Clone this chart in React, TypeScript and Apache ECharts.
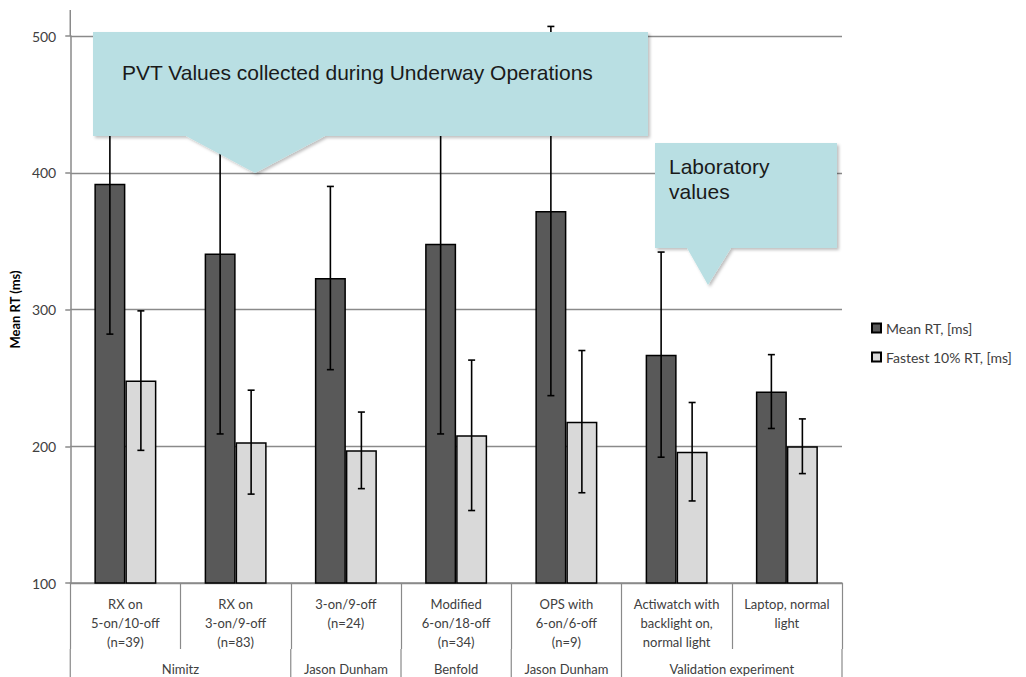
import React, { useEffect, useRef } from "react";
import * as echarts from "echarts";

const categories = [
  "RX on\n5-on/10-off\n(n=39)",
  "RX on\n3-on/9-off\n(n=83)",
  "3-on/9-off\n(n=24)",
  "Modified\n6-on/18-off\n(n=34)",
  "OPS with\n6-on/6-off\n(n=9)",
  "Actiwatch with\nbacklight on,\nnormal light",
  "Laptop, normal\nlight",
];
const groupNames = ["Nimitz", "Jason Dunham", "Benfold", "Jason Dunham", "Validation experiment"];
const groupSpans = [2, 1, 1, 1, 2];

const meanRT = [392, 341, 323, 348, 372, 267, 240];
const meanRTErr = [110, 132, 67, 139, 135, 75, 27];
const fastestRT = [248, 203, 197, 208, 218, 196, 200];
const fastestRTErr = [51, 38, 28, 55, 52, 36, 20];

const yMin = 100;
const yMax = 500;
const yInterval = 100;

const seriesNames = ["Mean RT, [ms]", "Fastest 10% RT, [ms]"];
const pvtText = "PVT Values collected during Underway Operations";
const labText = "Laboratory\nvalues";

const BAR_W = 31;
const FONT = "Lato, 'Open Sans', sans-serif";
const GRID_GRAY = "#8a8a8a";

function errorSeries(name: string, vals: number[], errs: number[], offset: number) {
  return {
    type: "custom",
    name,
    silent: true,
    z: 4,
    clip: false,
    data: vals.map((v, i) => [i, v - errs[i], v + errs[i]]),
    encode: { x: 0, y: [1, 2] },
    renderItem: (_params: any, api: any) => {
      const lo = api.coord([api.value(0), api.value(1)]);
      const hi = api.coord([api.value(0), api.value(2)]);
      const x = lo[0] + offset;
      const cap = 3.5;
      const style = { stroke: "#000", lineWidth: 1.6 };
      return {
        type: "group",
        children: [
          { type: "line", shape: { x1: x, y1: hi[1], x2: x, y2: lo[1] }, style },
          { type: "line", shape: { x1: x - cap, y1: hi[1], x2: x + cap, y2: hi[1] }, style },
          { type: "line", shape: { x1: x - cap, y1: lo[1], x2: x + cap, y2: lo[1] }, style },
        ],
      };
    },
  };
}

export default function App() {
  const ref = useRef<HTMLDivElement>(null);

  useEffect(() => {
    if (!ref.current) return;
    const chart = echarts.init(ref.current, undefined, { renderer: "svg" });
    chart.setOption({
      animation: false,
      backgroundColor: "#ffffff",
      grid: { left: 66, right: 184, top: 36, bottom: 94 },
      legend: {
        data: seriesNames,
        orient: "vertical",
        left: 866,
        top: 316,
        itemWidth: 9,
        itemHeight: 9,
        itemGap: 15,
        icon: "rect",
        textStyle: { fontFamily: FONT, fontSize: 14, color: "#404040" },
      },
      xAxis: {
        type: "category",
        data: categories,
        axisLine: { show: true, lineStyle: { color: GRID_GRAY, width: 1.5 } },
        axisTick: { show: true, interval: 0, length: 66, lineStyle: { color: GRID_GRAY, width: 1.2 } },
        axisLabel: {
          interval: 0,
          margin: 11,
          fontFamily: FONT,
          fontSize: 13,
          lineHeight: 19,
          color: "#404040",
          align: "center",
        },
      },
      yAxis: {
        type: "value",
        min: yMin,
        max: yMax,
        interval: yInterval,
        name: "Mean RT (ms)",
        nameLocation: "middle",
        nameGap: 42,
        nameTextStyle: { fontFamily: FONT, fontSize: 13, fontWeight: "bold", color: "#000" },
        axisLine: { show: true, lineStyle: { color: GRID_GRAY, width: 1.5 } },
        axisTick: { show: true, inside: false, length: 5, lineStyle: { color: GRID_GRAY, width: 1.5 } },
        axisLabel: { margin: 14, fontFamily: FONT, fontSize: 14, color: "#404040" },
        splitLine: { show: true, lineStyle: { color: GRID_GRAY, width: 1.3 } },
      },
      series: [
        {
          type: "bar",
          name: seriesNames[0],
          data: meanRT,
          barWidth: BAR_W,
          barGap: "0%",
          itemStyle: { color: "#595959", borderColor: "#000", borderWidth: 1.5 },
          z: 2,
        },
        {
          type: "bar",
          name: seriesNames[1],
          data: fastestRT,
          barWidth: BAR_W,
          barGap: "0%",
          itemStyle: { color: "#d9d9d9", borderColor: "#000", borderWidth: 1.5 },
          z: 2,
        },
        errorSeries("meanErr", meanRT, meanRTErr, -BAR_W / 2),
        errorSeries("fastErr", fastestRT, fastestRTErr, BAR_W / 2),
      ],
    });

    // Decorations computed from the axis scales
    const c0 = chart.convertToPixel({ xAxisIndex: 0 }, 0) as number;
    const c1 = chart.convertToPixel({ xAxisIndex: 0 }, 1) as number;
    const w = c1 - c0;
    const left = (i: number) => c0 + (i - 0.5) * w;
    const axisY = chart.convertToPixel({ yAxisIndex: 0 }, yMin) as number;
    const topY = chart.convertToPixel({ yAxisIndex: 0 }, yMax) as number;
    const lineStyle = { stroke: GRID_GRAY, lineWidth: 1.2 };

    const graphics: any[] = [];
    graphics.push({
      type: "line",
      shape: { x1: left(0), y1: 10, x2: left(0), y2: topY },
      style: { stroke: GRID_GRAY, lineWidth: 1.5 },
      z: 1,
    });
    let start = 0;
    groupSpans.forEach((span, gi) => {
      const l = left(start);
      const r = left(start + span);
      graphics.push({
        type: "line",
        shape: { x1: l, y1: axisY + 66, x2: l, y2: 677 },
        style: lineStyle,
      });
      graphics.push({
        type: "text",
        x: (l + r) / 2,
        y: 669,
        style: {
          text: groupNames[gi],
          fontFamily: FONT,
          fontSize: 13,
          fill: "#404040",
          align: "center",
          verticalAlign: "middle",
        },
      });
      start += span;
    });
    graphics.push({
      type: "line",
      shape: { x1: left(start), y1: axisY + 66, x2: left(start), y2: 677 },
      style: lineStyle,
    });

    const calloutStyle = {
      fill: "#b9dfe3",
      shadowBlur: 3,
      shadowOffsetX: 2,
      shadowOffsetY: 2,
      shadowColor: "rgba(0,0,0,0.25)",
    };
    graphics.push({
      type: "polygon",
      z: 50,
      shape: {
        points: [
          [93, 32], [648, 32], [648, 136], [325, 136], [255, 173], [186, 136], [93, 136],
        ],
      },
      style: calloutStyle,
    });
    graphics.push({
      type: "text",
      z: 51,
      x: 122,
      y: 72,
      style: {
        text: pvtText,
        fontFamily: "'Liberation Sans', Arial, sans-serif",
        fontSize: 21,
        fill: "#1a1a1a",
        verticalAlign: "middle",
      },
    });
    graphics.push({
      type: "polygon",
      z: 50,
      shape: {
        points: [
          [655, 143], [837, 143], [837, 248], [731, 248], [708, 285], [687, 248], [655, 248],
        ],
      },
      style: calloutStyle,
    });
    graphics.push({
      type: "text",
      z: 51,
      x: 669,
      y: 154,
      style: {
        text: labText,
        fontFamily: "'Liberation Sans', Arial, sans-serif",
        fontSize: 21,
        lineHeight: 25,
        fill: "#1a1a1a",
        verticalAlign: "top",
      },
    });

    chart.setOption({ graphic: graphics });

    return () => chart.dispose();
  }, []);

  return (
    <div
      ref={ref}
      style={{ position: "fixed", left: 0, top: 0, width: 1026, height: 677, background: "#fff" }}
    />
  );
}
